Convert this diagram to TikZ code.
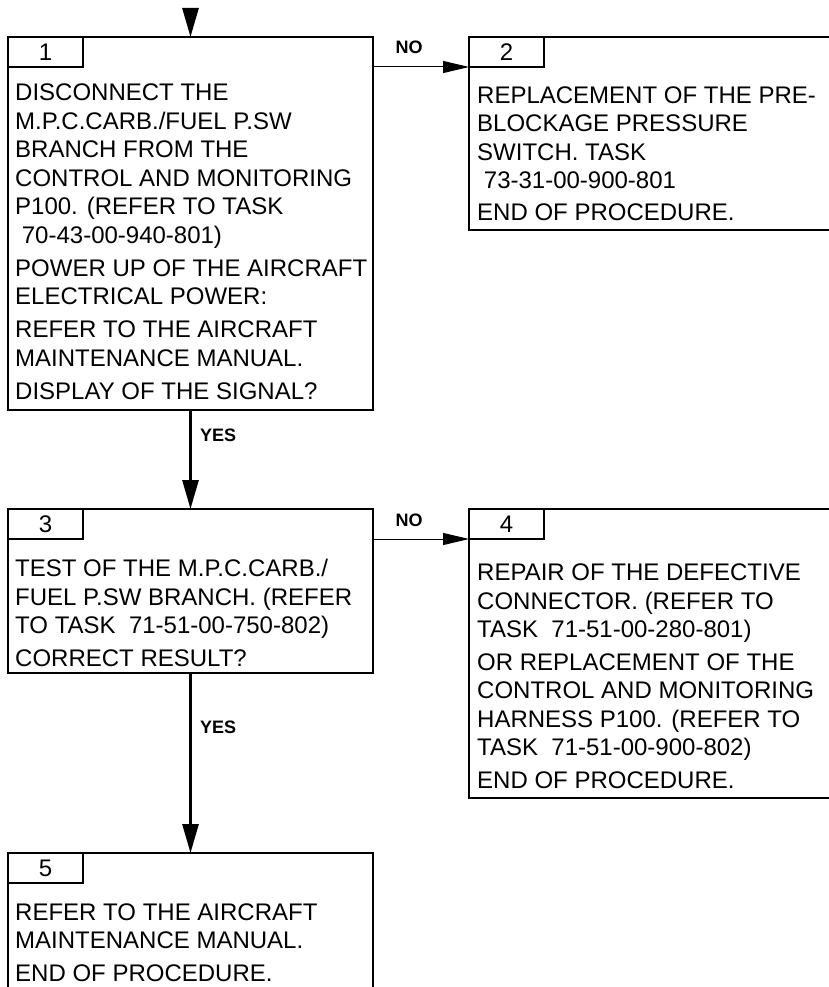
\documentclass[tikz,border=0pt]{standalone}
\usepackage{fontspec}
\setmainfont{Liberation Sans}
\usetikzlibrary{arrows.meta, positioning}

\tikzset{
  stepframe/.style={draw, line width=1.3pt, rectangle, inner sep=0pt, outer sep=0pt, anchor=north west},
  numtab/.style={draw, line width=1.3pt, rectangle, minimum width=75pt, minimum height=30pt,
    inner sep=0pt, outer sep=0pt, anchor=north west, font=\fontsize{24}{24}\selectfont},
  steptext/.style={inner sep=0pt, align=left, font=\fontsize{24}{28.5}\selectfont},
  yesarrow/.style={line width=2.8pt, -{Triangle[length=29pt,width=16pt]}},
  noarrow/.style={line width=1pt, -{Triangle[length=26pt,width=12pt]}},
  answer/.style={inner sep=0pt, font=\fontsize{18}{18}\selectfont\bfseries},
}

\begin{document}
\begin{tikzpicture}[x=1pt, y=-1pt]

\useasboundingbox (0,0) rectangle (829,987);
\clip (0,0) rectangle (829,987);

% Step frames
\node[stepframe, minimum width=365pt, minimum height=373pt] (b1) at (8,37) {};
\node[stepframe, minimum width=371pt, minimum height=193pt] (b2) at (469,37) {};
\node[stepframe, minimum width=365pt, minimum height=164pt] (b3) at (8,509) {};
\node[stepframe, minimum width=371pt, minimum height=289pt] (b4) at (469,509) {};
\node[stepframe, minimum width=365pt, minimum height=160pt] (b5) at (8,853) {};

% Number tabs
\foreach \n in {1,...,5} {
    \node[numtab] (t\n) at (b\n.north west) {\n};
}

% Step texts
\node[steptext, below right=47pt and 7pt of b1.north west] (x1) {%
DISCONNECT THE\\
M.P.C.CARB./FUEL P.SW\\
BRANCH FROM THE\\
CONTROL AND MONITORING\\
P100. (REFER TO TASK\\
\hspace*{6.7pt}70-43-00-940-801)\\[4.5pt]
POWER UP OF THE AIRCRAFT\\
ELECTRICAL POWER:\\[4.5pt]
REFER TO THE AIRCRAFT\\
MAINTENANCE MANUAL.\\[4.5pt]
DISPLAY OF THE SIGNAL?};

\node[steptext, below right=49.4pt and 8pt of b2.north west] (x2) {%
REPLACEMENT OF THE PRE-\\
BLOCKAGE PRESSURE\\
SWITCH. TASK\\
\hspace*{6.7pt}73-31-00-900-801\\[3pt]
END OF PROCEDURE.};

\node[steptext, below right=50.4pt and 7pt of b3.north west] (x3) {%
TEST OF THE M.P.C.CARB./\\
FUEL P.SW BRANCH. (REFER\\
TO TASK\ \ 71-51-00-750-802)\\[4pt]
CORRECT RESULT?};

\node[steptext, below right=55pt and 8pt of b4.north west] (x4) {%
REPAIR OF THE DEFECTIVE\\
CONNECTOR. (REFER TO\\
TASK\ \ 71-51-00-280-801)\\[4pt]
OR REPLACEMENT OF THE\\
CONTROL AND MONITORING\\
HARNESS P100. (REFER TO\\
TASK\ \ 71-51-00-900-802)\\[4pt]
END OF PROCEDURE.};

\node[steptext, below right=50.4pt and 7pt of b5.north west] (x5) {%
REFER TO THE AIRCRAFT\\
MAINTENANCE MANUAL.\\[4pt]
END OF PROCEDURE.};

% Flow
\coordinate (entry) at (190.5,8);
\draw[yesarrow] (entry) -- (b1.north);
\draw[yesarrow] (b1.south) -- (b3.north);
\draw[yesarrow] (b3.south) -- (b5.north);
\draw[noarrow] (b1.east |- t2.south west) -- (t2.south west);
\draw[noarrow] (b3.east |- t4.south west) -- (t4.south west);

% Answers
\node[answer, anchor=west] (yes1) at (200,435) {YES};
\node[answer, anchor=west] (yes2) at (200,727) {YES};
\node[answer] (no1) at (409,47) {NO};
\node[answer] (no2) at (409,520) {NO};

\end{tikzpicture}
\end{document}
